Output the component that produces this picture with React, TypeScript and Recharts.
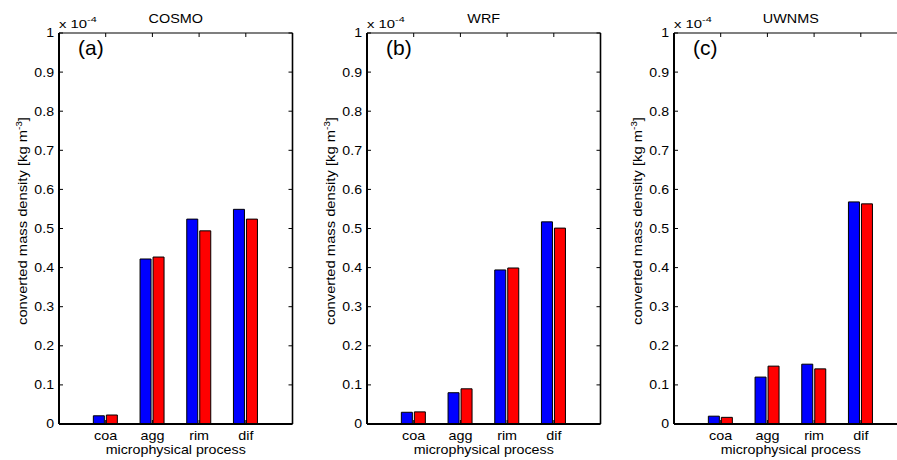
import React from 'react';
import { BarChart, Bar, XAxis, YAxis } from 'recharts';

const categories = ['coa', 'agg', 'rim', 'dif'];
const panelTitles = ['COSMO', 'WRF', 'UWNMS'];
const panelLetters = ['(a)', '(b)', '(c)'];
const cosmoBlue = [0.021, 0.422, 0.524, 0.549];
const cosmoRed = [0.023, 0.427, 0.494, 0.524];
const wrfBlue = [0.030, 0.080, 0.394, 0.517];
const wrfRed = [0.031, 0.090, 0.399, 0.501];
const uwnmsBlue = [0.020, 0.120, 0.153, 0.568];
const uwnmsRed = [0.017, 0.148, 0.141, 0.563];
const yTicks = [0, 0.1, 0.2, 0.3, 0.4, 0.5, 0.6, 0.7, 0.8, 0.9, 1];
const scaleExponent = '-4';
const xAxisTitle = 'microphysical process';
const yAxisTitleMain = 'converted mass density [kg m';
const yAxisTitleSup = '-3';
const yAxisTitleEnd = ']';

const FONT = '"Liberation Sans", Arial, Helvetica, sans-serif';
const CW = 300;
const CH = 460;
const LEFT_W = 59;
const RIGHT_W = 7.5;
const TOP_H = 33;
const BOTTOM_H = 36;
const PLOT_W = CW - LEFT_W - RIGHT_W;
const PLOT_H = CH - TOP_H - BOTTOM_H;
const UNIT = PLOT_W / 5;
const PAD = UNIT / 2;
const SX = 1.15;

const panelSeries = [
  [cosmoBlue, cosmoRed],
  [wrfBlue, wrfRed],
  [uwnmsBlue, uwnmsRed],
];

const fmt = (v: number) => String(Number(v.toFixed(1)));

function SText({
  x,
  y,
  sx = SX,
  rotate = 0,
  anchor = 'start',
  size = 12,
  children,
}: {
  x: number;
  y: number;
  sx?: number;
  rotate?: number;
  anchor?: 'start' | 'middle' | 'end';
  size?: number;
  children: React.ReactNode;
}) {
  return (
    <text
      x={0}
      y={0}
      transform={`translate(${x} ${y}) rotate(${rotate}) scale(${sx} 1)`}
      textAnchor={anchor}
      fontFamily={FONT}
      fontSize={size}
      fill="#000"
    >
      {children}
    </text>
  );
}

function LeftTick(props: any) {
  const { x, y, payload } = props;
  return (
    <SText x={x - 9} y={y + 4.4} anchor="end" size={12.3}>
      {fmt(payload.value)}
    </SText>
  );
}

function BottomTick(props: any) {
  const { x, y, payload } = props;
  return (
    <SText x={x} y={y + 20} anchor="middle" size={12.5}>
      {payload.value}
    </SText>
  );
}

function TopLabel({ title, letter }: { title: string; letter: string }) {
  const cx = LEFT_W + PLOT_W / 2;
  return (
    <g>
      <SText x={cx} y={23.3} anchor="middle" size={12} sx={1.2}>
        {title}
      </SText>
      <SText x={LEFT_W} y={27.5} size={11} sx={1.35}>
        <tspan>x 10</tspan>
        <tspan dy={-6} fontSize={8}>{scaleExponent}</tspan>
      </SText>
      <SText x={78} y={55} size={20} sx={1.05}>
        {letter}
      </SText>
    </g>
  );
}

function BottomLabel() {
  return (
    <SText x={LEFT_W + PLOT_W / 2} y={454} anchor="middle" size={12.5} sx={1.14}>
      {xAxisTitle}
    </SText>
  );
}

function LeftLabel() {
  return (
    <SText x={27} y={221} rotate={-90} anchor="middle" size={12.5} sx={1.18}>
      <tspan>{yAxisTitleMain}</tspan>
      <tspan dy={-5.5} fontSize={8.5}>{yAxisTitleSup}</tspan>
      <tspan dy={5.5}>{yAxisTitleEnd}</tspan>
    </SText>
  );
}

function Panel({ idx }: { idx: number }) {
  const [blue, red] = panelSeries[idx];
  const data = categories.map((c, i) => ({ cat: c, blue: blue[i], red: red[i] }));
  return (
    <BarChart
      width={CW}
      height={CH}
      data={data}
      margin={{ top: 0, right: 0, bottom: 0, left: 0 }}
      barSize={11}
      barGap={2}
    >
      <XAxis
        xAxisId="b"
        dataKey="cat"
        orientation="bottom"
        height={BOTTOM_H}
        padding={{ left: PAD, right: PAD }}
        tickSize={-4}
        tickMargin={0}
        interval={0}
        axisLine={{ stroke: '#000', strokeWidth: 2 }}
        tickLine={{ stroke: '#000' }}
        tick={<BottomTick />}
        label={<BottomLabel />}
      />
      <XAxis
        xAxisId="t"
        dataKey="cat"
        orientation="top"
        height={TOP_H}
        padding={{ left: PAD, right: PAD }}
        tickSize={-4}
        interval={0}
        axisLine={{ stroke: '#000', strokeWidth: 1.2 }}
        tickLine={{ stroke: '#000' }}
        tickFormatter={() => ''}
        label={<TopLabel title={panelTitles[idx]} letter={panelLetters[idx]} />}
      />
      <YAxis
        yAxisId="l"
        orientation="left"
        domain={[0, 1]}
        ticks={yTicks}
        allowDataOverflow
        interval={0}
        width={LEFT_W}
        tickSize={-4}
        tickMargin={0}
        axisLine={{ stroke: '#000', strokeWidth: 2 }}
        tickLine={{ stroke: '#000' }}
        tick={<LeftTick />}
        label={<LeftLabel />}
      />
      <YAxis
        yAxisId="r"
        orientation="right"
        domain={[0, 1]}
        ticks={yTicks}
        allowDataOverflow
        interval={0}
        width={RIGHT_W}
        tickSize={-4}
        tickFormatter={() => ''}
        axisLine={{ stroke: '#000', strokeWidth: 1.6 }}
        tickLine={{ stroke: '#000' }}
      />
      <Bar dataKey="blue" xAxisId="b" yAxisId="l" fill="#0000ff" stroke="#000" strokeWidth={1} isAnimationActive={false} />
      <Bar dataKey="red" xAxisId="b" yAxisId="l" fill="#ff0000" stroke="#000" strokeWidth={1} isAnimationActive={false} />
    </BarChart>
  );
}

export default function App() {
  const offsets = [0, 307.5, 615];
  return (
    <div
      style={{
        position: 'absolute',
        left: 0,
        top: 0,
        width: 897,
        height: 460,
        overflow: 'hidden',
        background: '#fff',
      }}
    >
      {offsets.map((x, i) => (
        <div key={i} style={{ position: 'absolute', left: x, top: 0, width: CW, height: CH }}>
          <Panel idx={i} />
        </div>
      ))}
    </div>
  );
}
